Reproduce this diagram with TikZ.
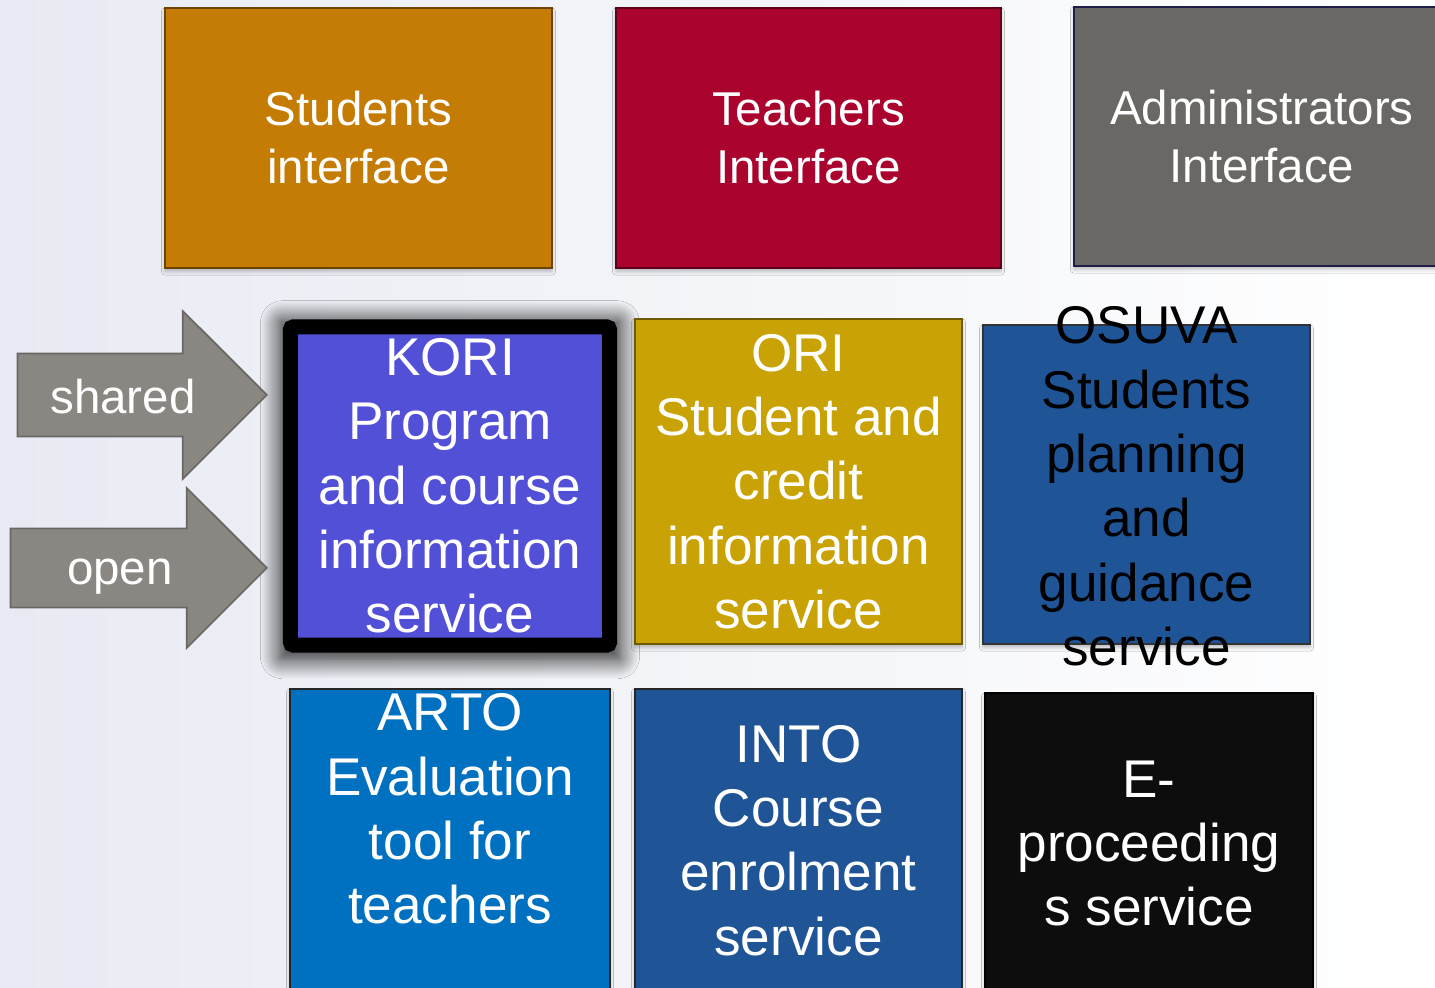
\documentclass[tikz,border=0pt]{standalone}
\usepackage{fontspec}
\setmainfont{Liberation Sans}
\usetikzlibrary{shapes.arrows,shadows.blur}

\definecolor{bgleft}{RGB}{232,235,243}
\definecolor{studorange}{RGB}{196,124,5}
\definecolor{teachred}{RGB}{170,4,46}
\definecolor{admingray}{RGB}{106,104,100}
\definecolor{adminedge}{RGB}{30,30,72}
\definecolor{koripurple}{RGB}{83,80,216}
\definecolor{orimustard}{RGB}{201,162,5}
\definecolor{navyblue}{RGB}{31,84,150}
\definecolor{artoblue}{RGB}{0,112,192}
\definecolor{nearblack}{RGB}{13,13,13}
\definecolor{arrowgray}{RGB}{138,135,130}
\definecolor{arrowedge}{RGB}{104,103,99}

\begin{document}
\begin{tikzpicture}[x=0.01cm, y=-0.01cm,
      tile/.style={rectangle, fill=#1, draw=#1!55!black, line width=0.45pt,
                   align=center, text=white, inner sep=0pt,
                   blur shadow={shadow xshift=0pt, shadow yshift=-1pt,
                                shadow blur radius=1pt, shadow opacity=25}},
      head/.style={font=\fontsize{13.5}{16.5}\selectfont},
      svc/.style={font=\fontsize{15.1}{18.3}\selectfont},
      svctext/.style={svc, align=center, text=white, inner sep=0pt},
      bigarrow/.style={single arrow, fill=arrowgray, draw=arrowedge,
                       line width=0.5pt, inner xsep=0pt, anchor=tip},
      arrowtxt/.style={text=white, font=\fontsize{13.5}{16}\selectfont},
    ]

    \useasboundingbox (0,0) rectangle (1435,988);
    \shade[left color=bgleft, right color=white] (0,0) rectangle (1435,988);

    % Row 1: user interfaces
    \node[tile=studorange, head, minimum width=3.87cm, minimum height=2.6cm]
      (stud) at (358.5,138) {Students\\interface};
    \node[tile=teachred, head, minimum width=3.85cm, minimum height=2.6cm]
      (teach) at (808.5,138) {Teachers\\Interface};
    \node[tile=admingray, head, draw=adminedge, minimum width=3.76cm,
          minimum height=2.59cm] (admin) at (1262,136.5)
      {Administrators\\Interface};

    % Row 2: KORI (highlighted), ORI, OSUVA
    \node[rectangle, fill=koripurple, draw=black, line width=4.27pt,
          rounded corners=0.03cm, svc, align=center, text=white, inner sep=0pt,
          minimum width=3.19cm, minimum height=3.18cm,
          blur shadow={shadow xshift=0pt, shadow yshift=-1pt, shadow scale=1.07,
                       shadow blur radius=5pt, shadow blur steps=20,
                       shadow opacity=85}]
      (kori) at (450,486)
      {KORI\\Program\\and course\\information\\service};
    \node[tile=orimustard, svc, minimum width=3.27cm, minimum height=3.25cm]
      (ori) at (798.5,481.5)
      {ORI\\Student and\\credit\\information\\service};
    \node[tile=navyblue, draw=black!80, minimum width=3.27cm, minimum height=3.19cm]
      (osuva) at (1146.5,484.5) {};
    \node[svctext, text=black] (osuvatxt) at (1146.5,486.5)
      {OSUVA\\Students\\planning\\and\\guidance\\service};

    % Row 3: ARTO, INTO, E-proceedings
    \node[tile=artoblue, draw=black!85, anchor=north, minimum width=3.2cm,
          minimum height=3.5cm] (arto) at (450,688) {};
    \node[tile=navyblue, draw=black!85, anchor=north, minimum width=3.27cm,
          minimum height=3.5cm] (into) at (798.5,688) {};
    \node[tile=nearblack, draw=black, anchor=north, minimum width=3.28cm,
          minimum height=3.5cm] (eproc) at (1149,692) {};
    \node[svctext] (artotxt) at (450,809)
      {ARTO\\Evaluation\\tool for\\teachers};
    \node[svctext] (intotxt) at (798.5,840.5)
      {INTO\\Course\\enrolment\\service};
    \node[svctext] (eproctxt) at (1149,843.5)
      {E-\\proceeding\\s service};

    % Arrows: shared / open into KORI
    \node[bigarrow, inner ysep=0.405cm, single arrow head extend=0.425cm,
          minimum height=2.49cm] (sharedarr) at (268,395) {};
    \node[arrowtxt] (sharedlbl) at (123,397) {shared};
    \node[bigarrow, inner ysep=0.385cm, single arrow head extend=0.405cm,
          minimum height=2.56cm] (openarr) at (268,568) {};
    \node[arrowtxt] (openlbl) at (120,577) {open};

    \end{tikzpicture}
\end{document}
